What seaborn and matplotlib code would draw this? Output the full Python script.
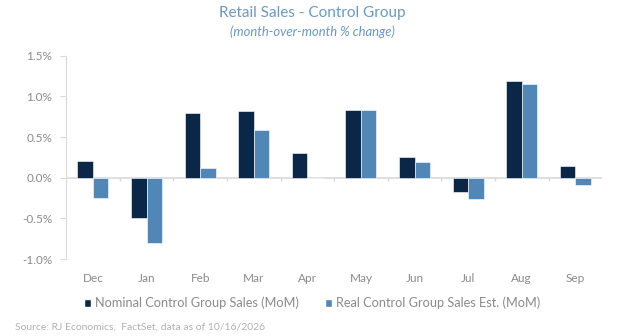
import numpy as np
import pandas as pd
import matplotlib.pyplot as plt
import seaborn as sns
from matplotlib.patches import Patch
from matplotlib.ticker import FuncFormatter

months = ['Dec', 'Jan', 'Feb', 'Mar', 'Apr', 'May', 'Jun', 'Jul', 'Aug', 'Sep']
nominal = [0.20, -0.50, 0.80, 0.82, 0.31, 0.83, 0.26, -0.18, 1.19, 0.15]
real = [-0.25, -0.80, 0.12, 0.59, 0.0, 0.83, 0.19, -0.26, 1.15, -0.09]
series = ['Nominal Control Group Sales (MoM)', 'Real Control Group Sales Est. (MoM)']
colors = ['#0b2747', '#5087b6']

df = pd.DataFrame({
    'month': months * 2,
    'value': nominal + real,
    'series': [series[0]] * len(months) + [series[1]] * len(months),
})

sns.set_style('white')
plt.rcParams['font.family'] = ['Lato', 'DejaVu Sans']

fig = plt.figure(figsize=(6.24, 3.36), dpi=100)
ax = fig.add_axes([0.106, 0.229, 0.859, 0.605])

sns.barplot(data=df, x='month', y='value', hue='series', palette=colors,
            width=0.58, gap=0, saturation=1, ax=ax, legend=False,
            edgecolor='white', linewidth=0.4)

ax.set_ylim(-1.0, 1.5)
ax.set_xlim(-0.5, len(months) - 0.5)
ax.set_yticks(np.arange(-1.0, 1.51, 0.5))
ax.yaxis.set_major_formatter(FuncFormatter(lambda v, p: f'{v:.1f}%'))
ax.set_xlabel('')
ax.set_ylabel('')

grey_line = '#d9d9d9'
ax.axhline(0, color=grey_line, lw=1.2, zorder=0)
ax.vlines(np.arange(0.5, len(months) - 0.5, 1), -0.04, 0, color=grey_line, lw=1, zorder=0)

for s in ['top', 'right', 'bottom']:
    ax.spines[s].set_visible(False)
ax.spines['left'].set_color(grey_line)
ax.tick_params(axis='y', length=4, color=grey_line, labelsize=8.5, labelcolor='#8a8a8a', pad=6, left=True)
ax.tick_params(axis='x', length=0, labelsize=8.5, labelcolor='#8a8a8a', pad=10)

fig.text(0.5, 0.961, 'Retail Sales - Control Group', ha='center', va='center',
         fontsize=11, color='#6a98c2')
fig.text(0.5, 0.905, '(month-over-month % change)', ha='center', va='center',
         fontsize=9.4, color='#6a98c2', style='italic')

handles = [Patch(facecolor=c) for c in colors]
fig.legend(handles, series, loc='center', bbox_to_anchor=(0.5, 0.098), ncol=2,
           frameon=False, fontsize=9.2, labelcolor='#8a8a8a', handlelength=0.6,
           handleheight=0.6, handletextpad=0.3, columnspacing=2.0)

fig.text(0.024, 0.027, 'Source: RJ Economics,  FactSet, data as of 10/16/2026',
         ha='left', va='center', fontsize=7.5, color='#b0b0b0')

fig.savefig('out.png', dpi=100)
